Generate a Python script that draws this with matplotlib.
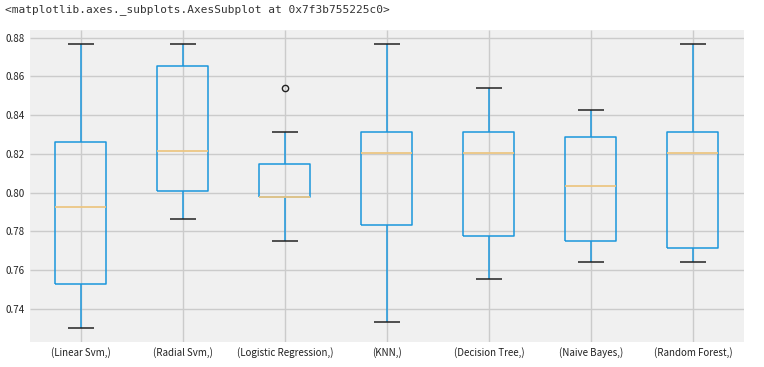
import matplotlib
matplotlib.use("Agg")
import matplotlib.pyplot as plt

plt.style.use("fivethirtyeight")
plt.rcParams['font.family'] = ['Noto Sans CJK SC', 'DejaVu Sans']

models = ["(Linear Svm,)", "(Radial Svm,)", "(Logistic Regression,)", "(KNN,)",
          "(Decision Tree,)", "(Naive Bayes,)", "(Random Forest,)"]
whislo = [0.7303, 0.7866, 0.7752, 0.7334, 0.7555, 0.7645, 0.7645]
q1     = [0.7529, 0.8007, 0.7977, 0.7835, 0.7779, 0.7752, 0.7717]
med    = [0.7926, 0.8214, 0.7977, 0.8205, 0.8205, 0.8033, 0.8205]
q3     = [0.8262, 0.8652, 0.8150, 0.8314, 0.8314, 0.8286, 0.8314]
whishi = [0.8766, 0.8766, 0.8314, 0.8766, 0.8541, 0.8426, 0.8766]
fliers = [[], [], [0.8541], [], [], [], []]

stats = []
for i, m in enumerate(models):
    stats.append(dict(label=m, whislo=whislo[i], q1=q1[i], med=med[i],
                      q3=q3[i], whishi=whishi[i], fliers=fliers[i]))

fig = plt.figure(figsize=(7.64, 3.67), dpi=100)
fig.patch.set_facecolor('white')
ax = fig.add_axes([30/764, 1-342/367, 714/764, 312/367])
ax.set_facecolor('#f0f0f0')

blue = '#1b96dc'
ax.bxp(stats, showfliers=True,
       boxprops=dict(color=blue, linewidth=1.1),
       whiskerprops=dict(color=blue, linewidth=1.1),
       capprops=dict(color='#222222', linewidth=1.1),
       medianprops=dict(color='#ecc684', linewidth=1.3),
       flierprops=dict(marker='o', markerfacecolor='none', markeredgecolor='#222222',
                       markersize=4.5, markeredgewidth=1.0))

ax.set_yticks([0.74, 0.76, 0.78, 0.80, 0.82, 0.84, 0.86, 0.88])
ax.set_yticklabels(["0.74", "0.76", "0.78", "0.80", "0.82", "0.84", "0.86", "0.88"])
ax.tick_params(axis='both', labelsize=7, colors='#222222', length=0, pad=4)
ax.grid(True, color='#cbcbcb', linewidth=1)
ax.set_axisbelow(True)
for s in ax.spines.values():
    s.set_visible(False)

fig.text(5/764, 1-10/367, "<matplotlib.axes._subplots.AxesSubplot at 0x7f3b755225c0>",
         family='DejaVu Sans Mono', fontsize=8, color='#333333', va='center', ha='left')

fig.savefig("out.png", dpi=100, facecolor='white')
